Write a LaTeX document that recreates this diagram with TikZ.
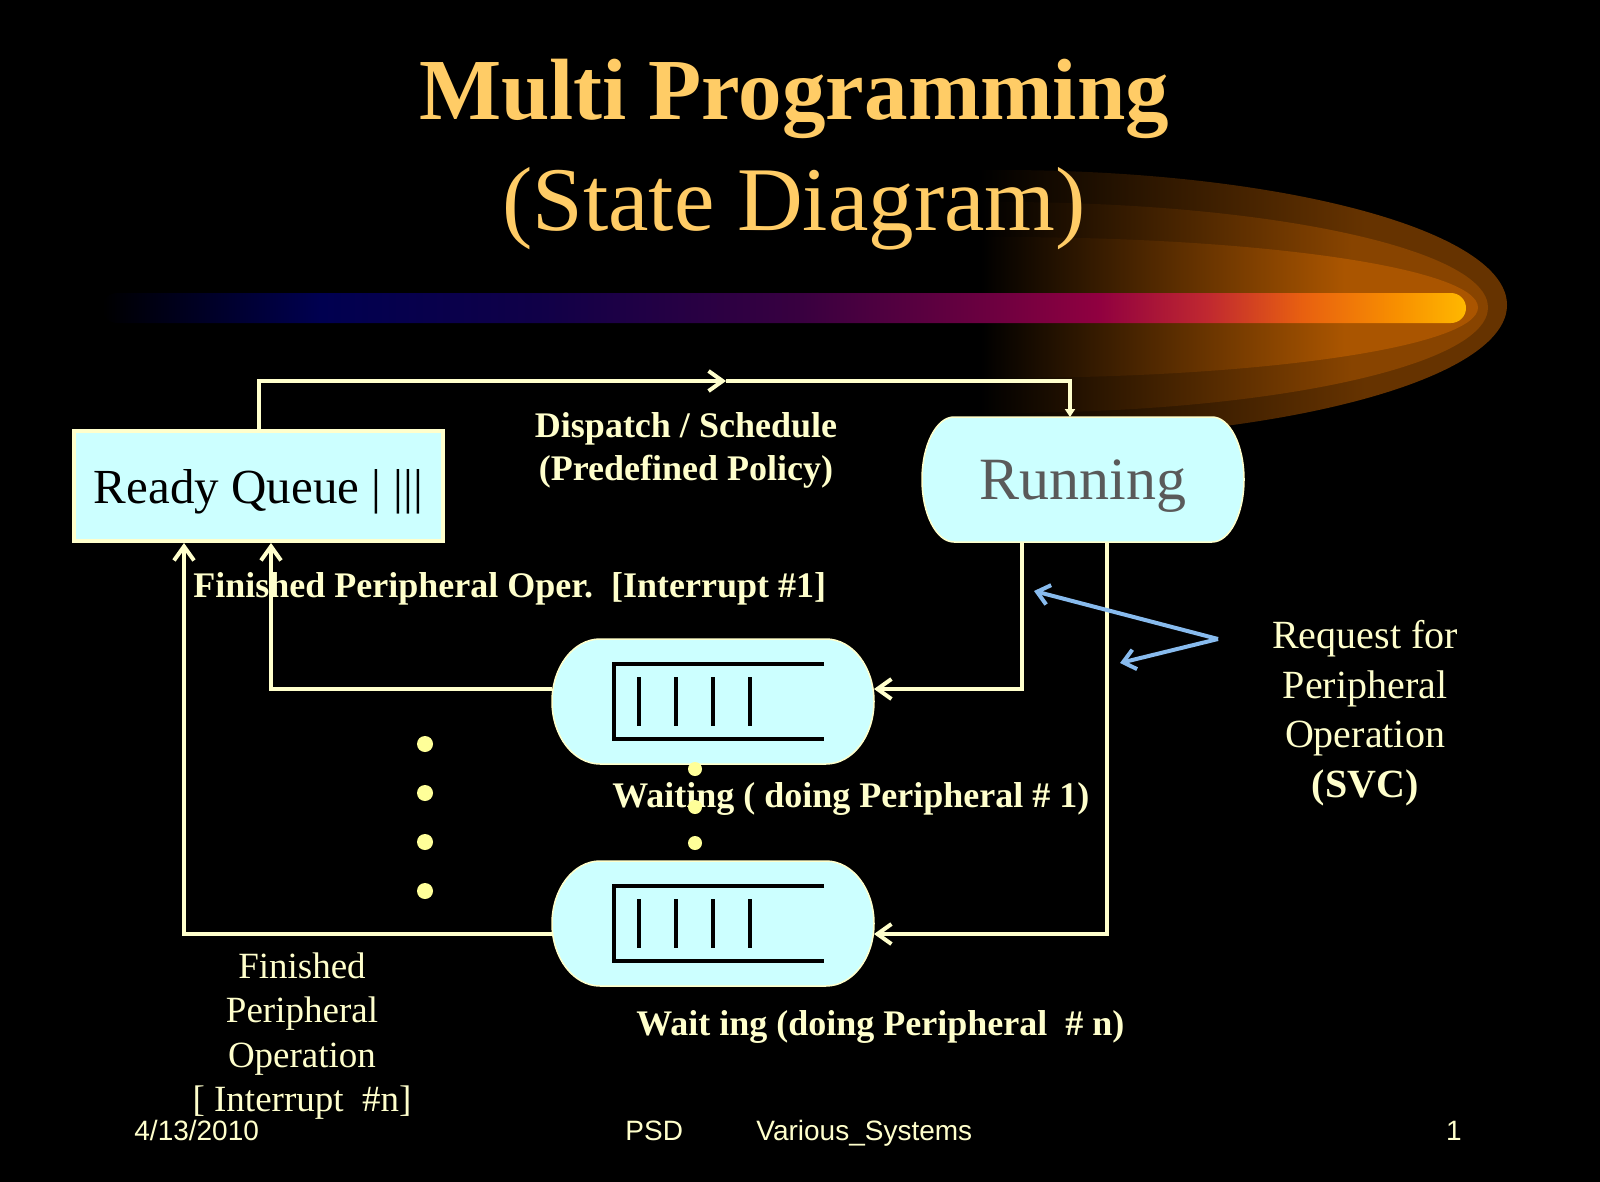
\documentclass[tikz,border=0pt]{standalone}
\usepackage{fontspec}
\setmainfont{Liberation Serif}
\newfontfamily\footfont{Liberation Sans}
\usepackage{tikz}
\usetikzlibrary{positioning,calc,arrows.meta}
\definecolor{slidecream}{HTML}{FFFFCC}
\definecolor{slidecyan}{HTML}{CCFFFF}
\definecolor{slidegold}{HTML}{FFCC66}
\definecolor{slideblue}{HTML}{88BBEE}
\definecolor{slidedot}{HTML}{FFFF99}
\definecolor{slidegray}{HTML}{5A5A5A}
\definecolor{glowout}{HTML}{663300}
\definecolor{glowmid}{HTML}{884400}
\definecolor{glowin}{HTML}{AA5500}
\definecolor{barA}{HTML}{000050}
\definecolor{barB}{HTML}{100048}
\definecolor{barC}{HTML}{380040}
\definecolor{barD}{HTML}{700040}
\definecolor{barE}{HTML}{900040}
\definecolor{barF}{HTML}{C02830}
\definecolor{barG}{HTML}{E86010}
\definecolor{barH}{HTML}{F89000}
\definecolor{barI}{HTML}{FFB800}
\pgfdeclarehorizontalshading{glowoutshade}{100bp}{color(0bp)=(black); color(49bp)=(black); color(68bp)=(glowout); color(100bp)=(glowout)}
\pgfdeclarehorizontalshading{glowmidshade}{100bp}{color(0bp)=(black); color(49bp)=(black); color(68bp)=(glowmid); color(100bp)=(glowmid)}
\pgfdeclarehorizontalshading{glowinshade}{100bp}{color(0bp)=(black); color(49bp)=(black); color(68bp)=(glowin); color(100bp)=(glowin)}
\pgfdeclarehorizontalshading{barshade}{100bp}{color(0bp)=(black); color(25bp)=(black); color(33bp)=(barA); color(41bp)=(barB); color(50.5bp)=(barC); color(58bp)=(barD); color(61.5bp)=(barE); color(65.5bp)=(barF); color(69bp)=(barG); color(72.5bp)=(barH); color(75bp)=(barI); color(100bp)=(barI)}
\pgfdeclarelayer{backdrop}
\pgfdeclarelayer{pills}
\pgfsetlayers{backdrop,pills,main}

% pill outline behind a state node
\newcommand\pillback[2]{%
  \begin{pgfonlayer}{pills}
    \path[pillbox] let \p1=(#1.north), \p2=(#1.south), \n1={(\y1-\y2)/2} in
      ([xshift=#2]#1.north west) -- ([xshift=-#2]#1.north east)
      arc[start angle=90, end angle=-90, x radius=#2, y radius=\n1]
      -- ([xshift=#2]#1.south west)
      arc[start angle=270, end angle=90, x radius=#2, y radius=\n1] -- cycle;
  \end{pgfonlayer}}
% queue symbol inside a waiting state
\newcommand\queueicon[1]{%
  \begin{scope}[shift={(#1.center)}]
    \draw[qline] (111,37.5) -- (-99,37.5) -- (-99,-37.5) -- (111,-37.5);
    \foreach \b in {-74,-37,0,37} \draw[qline] (\b,24.5) -- (\b,-24.5);
  \end{scope}}

\begin{document}
\begin{tikzpicture}[x=0.5pt, y=0.5pt,
  title/.style={text=slidegold, inner sep=0pt},
  rqbox/.style={draw=slidecream, line width=2pt, fill=slidecyan, minimum width=184.5pt, minimum height=55pt, inner sep=0pt, text depth=0pt, font=\fontsize{24.5}{28}\selectfont, text=black},
  pillnode/.style={minimum width=161pt, minimum height=62.5pt, inner sep=0pt, outer sep=0pt},
  pillbox/.style={fill=slidecyan, draw=slidecream, line width=0.75pt},
  qline/.style={draw=black, line width=2pt},
  flow/.style={draw=slidecream, line width=2pt},
  barb/.style={-{Straight Barb[length=7pt,width=10pt]}},
  svc/.style={draw=slideblue, line width=2pt, -{Straight Barb[length=6pt,width=10pt]}},
  flowlabel/.style={text=slidecream, font=\fontsize{18}{21.5}\selectfont\bfseries, inner sep=0pt},
  note/.style={text=slidecream, align=center, inner sep=0pt},
  foot/.style={text=slidecream, font=\footfont\fontsize{14}{16}\selectfont, inner sep=0pt},
]
\useasboundingbox (0,0) rectangle (1600,-1182);

% Backdrop: black slide, glow and colour bar
\begin{pgfonlayer}{backdrop}
  \fill[black] (0,0) rectangle (1600,-1182);
  \shade[shading=glowoutshade] (1000,-305) ellipse [x radius=253.5pt, y radius=67.5pt];
  \shade[shading=glowmidshade] (1000,-307.5) ellipse [x radius=244pt, y radius=52.75pt];
  \shade[shading=glowinshade] (1000,-307.5) ellipse [x radius=239pt, y radius=35.25pt];
  \shade[shading=barshade, rounded corners=7.5pt] (102,-293) rectangle (1466,-323);
\end{pgfonlayer}

% Title
\node[title, font=\fontsize{43.5}{48}\selectfont\bfseries, anchor=base] (ttl) at (794,-120) {Multi Programming};
\node[title, font=\fontsize{45.5}{50}\selectfont, anchor=base] (sub) at (794,-231) {(State Diagram)};

% States
\node[rqbox] (rq) at (258.5,-486) {Ready Queue | |||};
\node[pillnode, text=slidegray, text depth=0pt, font=\fontsize{30}{34}\selectfont] (run) at (1083,-479.5) {Running};
\node[pillnode] (w1) at (713,-701.5) {};
\node[pillnode] (wn) at (713,-923.5) {};
\pillback{run}{16pt}
\pillback{w1}{24pt}
\pillback{wn}{24pt}
\queueicon{w1}
\queueicon{wn}

% Transitions
\coordinate (disp) at (726,-381);
\draw[flow, barb] (rq.north) |- (disp);
\draw[flow, -{Triangle[length=4pt,width=5pt]}] (disp) -| ([xshift=-6.5pt]run.north);
\draw[flow, barb] ([xshift=-30.5pt]run.south) |- ([yshift=6.25pt]w1.east);
\draw[flow, barb] ([xshift=12pt]run.south) |- ([yshift=-5.25pt]wn.east);
\draw[flow, barb] ([yshift=6.25pt]w1.west) -| ([xshift=6.25pt]rq.south);
\draw[flow, barb] ([yshift=-5.25pt]wn.west) -| ([xshift=-37.25pt]rq.south);

% Labels
\node[flowlabel, align=center] (dsp) at (686,-450) {Dispatch / Schedule\\(Predefined Policy)};
\node[flowlabel, anchor=base west] (fin1) at (193,-597) {Finished Peripheral Oper.\ \ [Interrupt \#1]};
\node[flowlabel, anchor=base west] (wt1) at (612,-807) {Waiting ( doing Peripheral \# 1)};
\node[flowlabel, anchor=base west] (wtn) at (636,-1035) {Wait ing (doing Peripheral\ \ \# n)};
\node[note, font=\fontsize{18.5}{22.25}\selectfont] (finn) at (302,-1036) {Finished\\Peripheral\\Operation\\{[} Interrupt\ \ \#n]};
\node[note, font=\fontsize{20}{24.75}\selectfont] (req) at (1365,-713) {Request for\\Peripheral\\Operation\\\textbf{(SVC)}};

% Request arrows
\coordinate (fork) at (1218,-639);
\coordinate (svcA) at (1034,-591);
\coordinate (svcB) at (1120,-663);
\draw[svc] (fork) -- (svcA);
\draw[svc] (fork) -- (svcB);

% Ellipsis dots
\foreach \yy in {744,793,842,891} \fill[slidedot] (425,-\yy) circle[radius=4pt];
\foreach \yy in {769,807,843} \fill[slidedot] (695,-\yy) circle[radius=3.5pt];

% Footer
\node[foot, anchor=base west] (date) at (134,-1140) {4/13/2010};
\node[foot, anchor=base west] (psd) at (625,-1140) {PSD};
\node[foot, anchor=base west] (sys) at (756,-1140) {Various\_Systems};
\node[foot, anchor=base east] (pg) at (1462,-1140) {1};
\end{tikzpicture}
\end{document}
